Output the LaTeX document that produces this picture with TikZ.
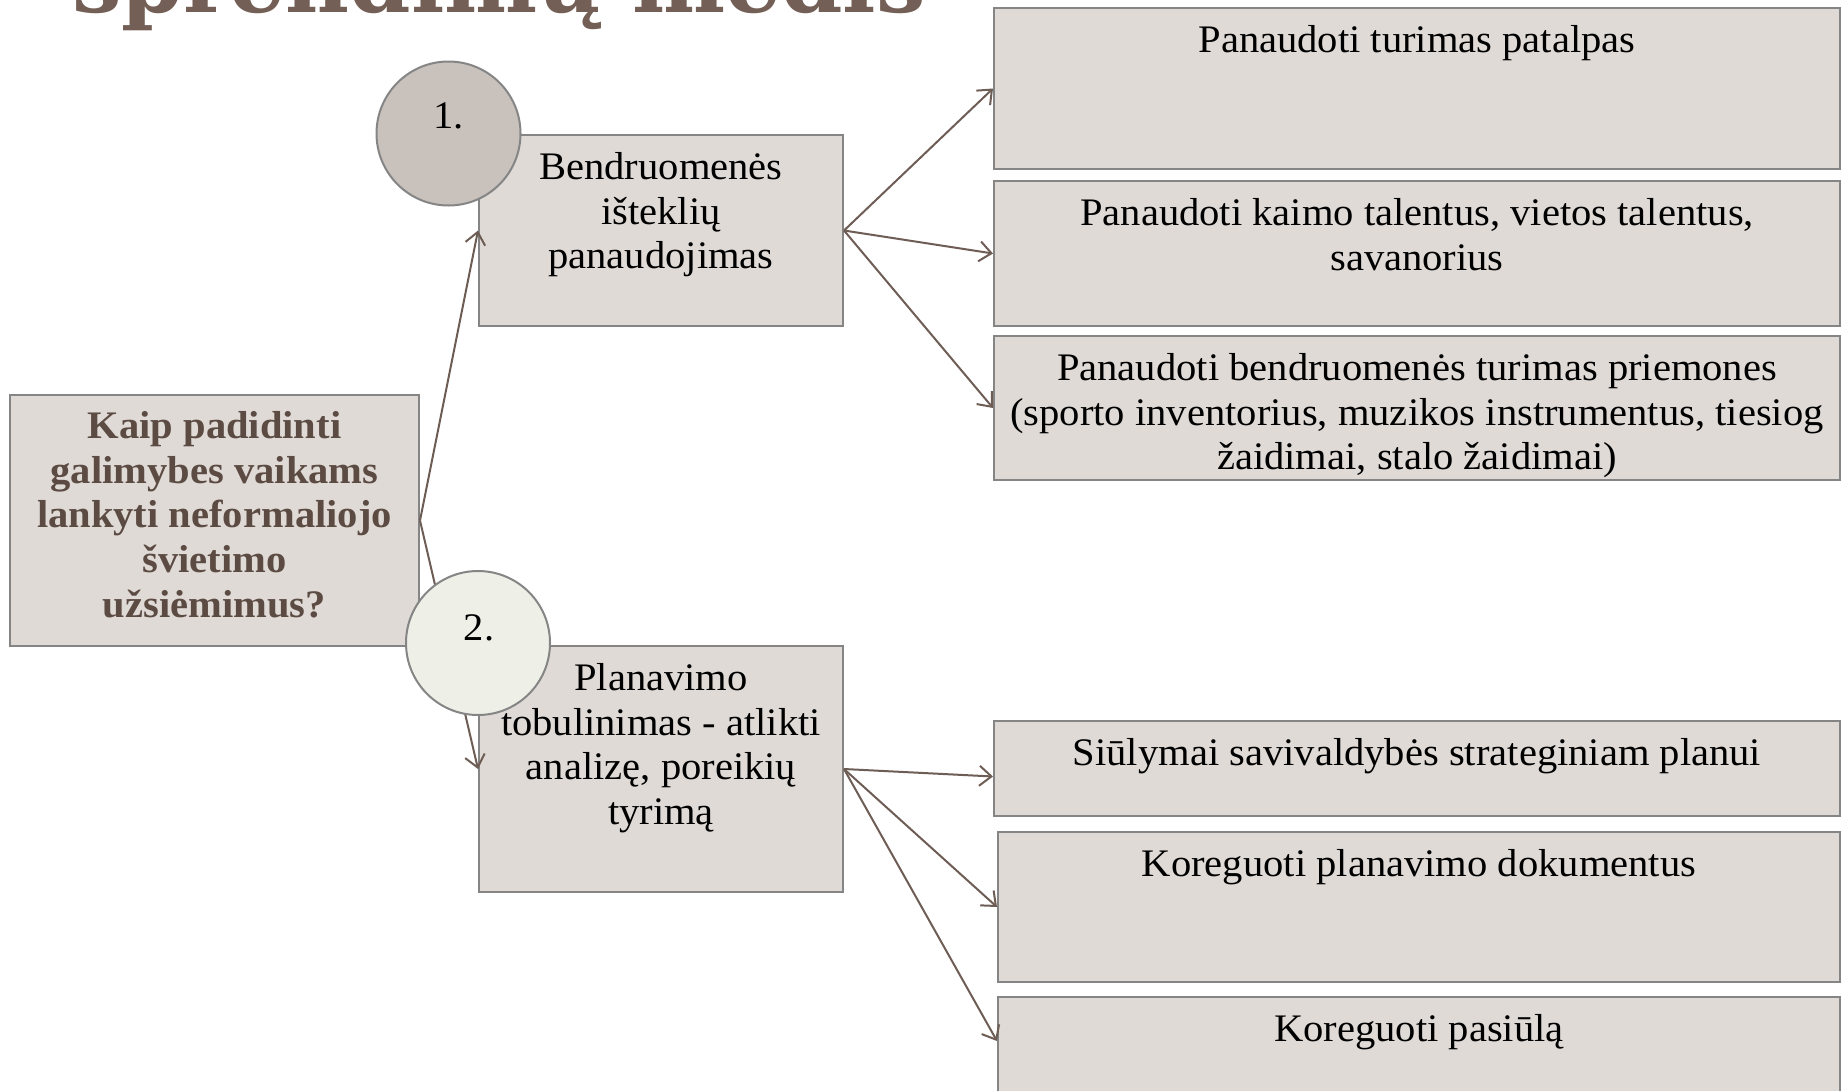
\documentclass[tikz,border=0pt]{standalone}
\usepackage{fontspec}
\setmainfont[FakeStretch=1.04]{Liberation Serif}
\newfontfamily\titlefont{DejaVu Serif}
\usetikzlibrary{arrows.meta}
\definecolor{boxfill}{HTML}{DFDAD6}
\definecolor{boxline}{HTML}{858585}
\definecolor{arrowcol}{HTML}{6E5D55}
\definecolor{circA}{HTML}{C9C2BC}
\definecolor{circB}{HTML}{EEF0E8}
\definecolor{qcol}{HTML}{5C4B43}
\definecolor{titlecol}{HTML}{735F55}
\tikzset{
  box/.style={draw=boxline, fill=boxfill, line width=2pt, rectangle, inner sep=0pt, anchor=north west},
  numcirc/.style={circle, draw=boxline, line width=2pt, minimum size=144pt, inner sep=0pt},
  btext/.style={anchor=north, inner sep=0pt, align=center, font=\fontsize{39}{44.6}\selectfont},
  numtext/.style={anchor=base, inner sep=0pt, font=\fontsize{39}{44.6}\selectfont},
  conn/.style={draw=arrowcol, line width=2pt, -{Straight Barb[length=12pt,width=20pt]}}
}
\begin{document}
\begin{tikzpicture}[x=1pt,y=-1pt]
\useasboundingbox (0,0) rectangle (1841,1090);
\clip (0,0) rectangle (1841,1090);
\fill[white] (0,0) rectangle (1841,1090);

% title (cut by the top edge)
\node[anchor=base west, inner sep=0pt, text=titlecol,
      font=\titlefont\bfseries\fontsize{88}{92}\selectfont] (title) at (72,12) {sprendimų medis};

% boxes
\node[box, minimum width=409pt, minimum height=251pt] (Q) at (9,394) {};
\node[box, minimum width=364pt, minimum height=191pt] (B1) at (478,134) {};
\node[box, minimum width=364pt, minimum height=246pt] (B2) at (478,645) {};
\node[box, minimum width=846pt, minimum height=161pt] (R1) at (993,7) {};
\node[box, minimum width=846pt, minimum height=145pt] (R2) at (993,180) {};
\node[box, minimum width=846pt, minimum height=144pt] (R3) at (993,335) {};
\node[box, minimum width=846pt, minimum height=95pt] (R4) at (993,720) {};
\node[box, minimum width=842pt, minimum height=150pt] (R5) at (997,831) {};
\node[box, minimum width=842pt, minimum height=100pt] (R6) at (997,996) {};

% connectors
\draw[conn] (Q.east) -- (B1.west);
\draw[conn] (Q.east) -- (B2.west);
\draw[conn] (B1.east) -- (R1.west);
\draw[conn] (B1.east) -- (R2.west);
\draw[conn] (B1.east) -- (R3.west);
\draw[conn] (B2.east) -- ([yshift=-8pt]R4.west);
\draw[conn] (B2.east) -- (R5.west);
\draw[conn] (B2.east) -- ([yshift=-45pt]R6.north west);

% number circles
\node[numcirc, fill=circA] (C1) at (448.5,133.5) {};
\node[numcirc, fill=circB] (C2) at (478,643) {};
\node[numtext] (C1t) at (448.5,128) {1.};
\node[numtext] (C2t) at (479,640) {2.};

% texts
\node[btext, text=qcol, font=\bfseries\fontsize{39}{44.6}\selectfont] (Qt) at ([yshift=-17.5pt]Q.north)
  {Kaip padidinti\\galimybes vaikams\\lankyti neformaliojo\\švietimo\\užsiėmimus?};
\node[btext] (B1t) at ([yshift=-18.5pt]B1.north) {Bendruomenės\\išteklių\\panaudojimas};
\node[btext] (B2t) at ([yshift=-18.5pt]B2.north) {Planavimo\\tobulinimas - atlikti\\analizę, poreikių\\tyrimą};
\node[btext] (R1t) at ([yshift=-18.5pt]R1.north) {Panaudoti turimas patalpas};
\node[btext] (R2t) at ([yshift=-18.5pt]R2.north) {Panaudoti kaimo talentus, vietos talentus,\\savanorius};
\node[btext] (R3t) at ([yshift=-18.5pt]R3.north) {Panaudoti bendruomenės turimas priemones\\(sporto inventorius, muzikos instrumentus, tiesiog\\žaidimai, stalo žaidimai)};
\node[btext] (R4t) at ([yshift=-18.5pt]R4.north) {Siūlymai savivaldybės strateginiam planui};
\node[btext] (R5t) at ([yshift=-18.5pt]R5.north) {Koreguoti planavimo dokumentus};
\node[btext] (R6t) at ([yshift=-18.5pt]R6.north) {Koreguoti pasiūlą};
\end{tikzpicture}
\end{document}
